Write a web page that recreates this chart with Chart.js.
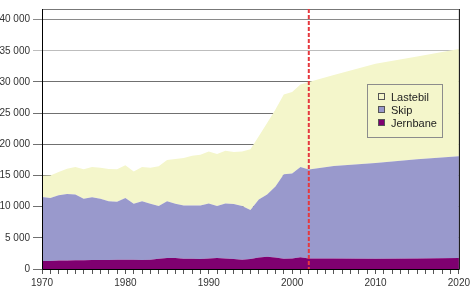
<!DOCTYPE html>
<html>
<head>
<meta charset="utf-8">
<script src="https://cdn.jsdelivr.net/npm/chart.js@4/dist/chart.umd.min.js"></script>
<style>
  body { margin: 0; background: #fff; }
  #wrap { position: relative; width: 473px; height: 288px; }
  #legend {
    position: absolute; left: 367px; top: 84px; width: 74px; height: 46px;
    border: 1px solid #8c8c8c; padding-top: 6px; box-sizing: content-box;
    font: 11px "Liberation Sans", Arial, sans-serif; color: #222;
  }
  #legend div { height: 13px; line-height: 13px; padding-left: 10px; }
  #legend span {
    display: inline-block; width: 5px; height: 5px; border: 1px solid #555;
    margin-right: 6px; vertical-align: 1px;
  }
</style>
</head>
<body>
<div id="wrap">
  <canvas id="chart" width="473" height="288"></canvas>
  <div id="legend">
    <div><span style="background:#f4f6cb"></span>Lastebil</div>
    <div><span style="background:#9999cc"></span>Skip</div>
    <div><span style="background:#7f0070"></span>Jernbane</div>
  </div>
</div>
<script>
// år (historiske tall hvert år, deretter framskriving)
const years = [1970, 1971, 1972, 1973, 1974, 1975, 1976, 1977, 1978, 1979,
  1980, 1981, 1982, 1983, 1984, 1985, 1986, 1987, 1988, 1989,
  1990, 1991, 1992, 1993, 1994, 1995, 1996, 1997, 1998, 1999,
  2000, 2001, 2002, 2005, 2010, 2015, 2020];

const jernbane = [1300, 1300, 1350, 1350, 1400, 1400, 1450, 1450, 1450, 1500,
  1500, 1500, 1450, 1500, 1650, 1750, 1750, 1650, 1650, 1600,
  1700, 1750, 1700, 1600, 1500, 1600, 1850, 1950, 1850, 1650,
  1700, 1900, 1700, 1700, 1650, 1700, 1750];

const skip = [10260, 10100, 10470, 10680, 10530, 9850, 10060, 9800, 9430, 9280,
  9900, 8970, 9430, 8970, 8450, 9130, 8720, 8550, 8550, 8600,
  8820, 8350, 8820, 8820, 8600, 7880, 9300, 9980, 11380, 13560,
  13610, 14450, 14250, 14800, 15350, 15900, 16350];

const lastebil = [3390, 3600, 3750, 4060, 4420, 4740, 4840, 5000, 5160, 5210,
  5220, 5150, 5470, 5780, 6360, 6620, 7190, 7610, 7980, 8130,
  8330, 8340, 8440, 8330, 8750, 9740, 10150, 11470, 12370, 12790,
  13090, 13250, 14050, 14600, 15900, 16500, 17200];

const yTicks = [0, 5000, 10000, 15000, 20000, 25000, 30000, 35000, 40000];
const xLabelYears = [1970, 1980, 1990, 2000, 2010, 2020];
const markerYear = 2002;

const font = { family: '"Liberation Sans", Arial, sans-serif', size: 10 };

function points(arr) {
  return years.map((yr, i) => ({ x: yr, y: arr[i] }));
}

function fmt(v) {
  return String(v).replace(/\B(?=(\d{3})+(?!\d))/g, ' ');
}

// ramme og rød stiplet linje
const framePlugin = {
  id: 'frame',
  afterDatasetsDraw(chart) {
    const { ctx, chartArea: a, scales } = chart;
    ctx.save();
    ctx.lineWidth = 1;
    ctx.strokeStyle = '#777';
    ctx.beginPath();
    ctx.moveTo(a.left, a.top + 0.5);
    ctx.lineTo(a.right, a.top + 0.5);
    ctx.stroke();
    ctx.strokeStyle = '#000';
    ctx.beginPath();
    ctx.moveTo(a.left + 0.5, a.top);
    ctx.lineTo(a.left + 0.5, a.bottom + 0.5);
    ctx.lineTo(a.right + 0.5, a.bottom + 0.5);
    ctx.lineTo(a.right + 0.5, a.top);
    ctx.stroke();

    const x = scales.x.getPixelForValue(markerYear);
    ctx.strokeStyle = '#e5393f';
    ctx.lineWidth = 2;
    ctx.setLineDash([4, 2]);
    ctx.beginPath();
    ctx.moveTo(x, a.top);
    ctx.lineTo(x, a.bottom);
    ctx.stroke();
    ctx.restore();
  }
};

new Chart(document.getElementById('chart'), {
  type: 'line',
  data: {
    datasets: [
      { label: 'Jernbane', data: points(jernbane), backgroundColor: '#7f0070', fill: 'origin' },
      { label: 'Skip', data: points(skip), backgroundColor: '#9999cc', fill: '-1' },
      { label: 'Lastebil', data: points(lastebil), backgroundColor: '#f4f6cb', fill: '-1' }
    ]
  },
  options: {
    responsive: false,
    animation: false,
    layout: { padding: { top: 1, right: 12, left: 0, bottom: 0 } },
    elements: {
      point: { radius: 0 },
      line: { borderWidth: 0, tension: 0 }
    },
    plugins: { legend: { display: false }, tooltip: { enabled: false } },
    scales: {
      x: {
        type: 'linear',
        min: 1970,
        max: 2020,
        border: { display: false },
        grid: { drawOnChartArea: false, drawTicks: true, tickLength: 5, color: '#555' },
        ticks: {
          stepSize: 1,
          autoSkip: false,
          maxRotation: 0,
          padding: 3,
          color: '#333',
          font: font,
          callback: v => xLabelYears.includes(v) ? String(v) : ''
        },
        afterFit: s => { s.height = 19; }
      },
      y: {
        stacked: true,
        min: 0,
        max: 41700,
        border: { display: false },
        afterBuildTicks: s => {
          s.ticks = yTicks.map(v => ({ value: v }));
        },
        grid: {
          tickLength: 9,
          color: c => c.tick && c.tick.value === 35000 ? '#bdbdbd' :
                      c.tick && c.tick.value === 40000 ? '#8a8a8a' : '#707070'
        },
        ticks: {
          padding: 3,
          color: '#333',
          font: font,
          callback: v => fmt(v)
        },
        afterFit: s => { s.width = 42; }
      }
    }
  },
  plugins: [framePlugin]
});
</script>
</body>
</html>
